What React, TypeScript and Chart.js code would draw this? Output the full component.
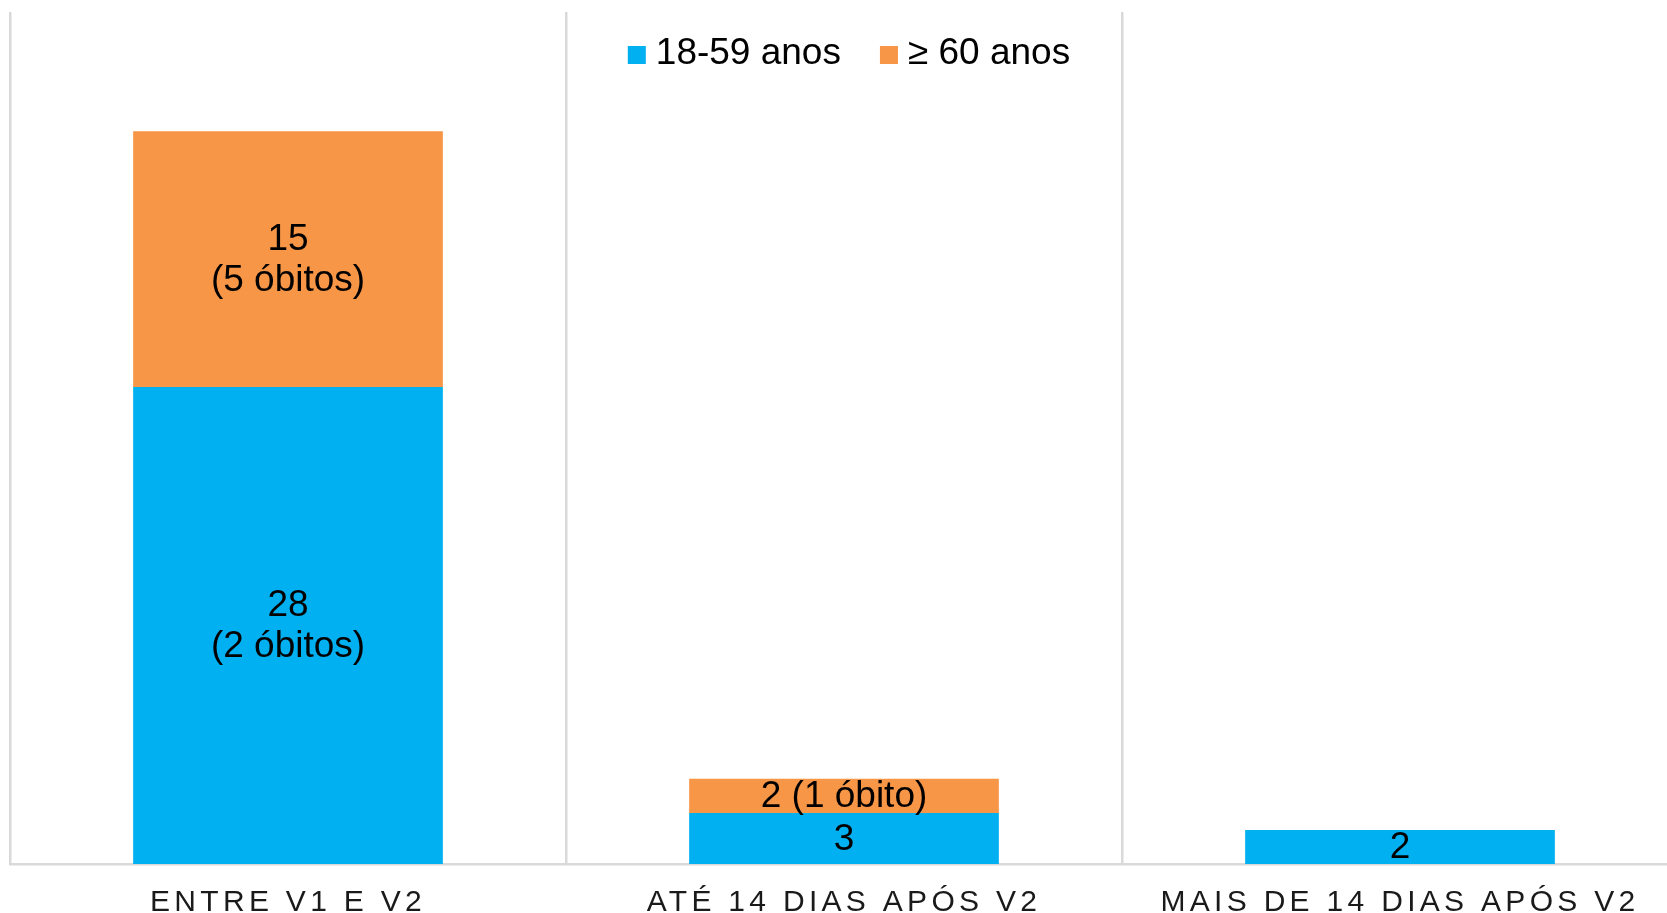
import React, { useEffect, useRef } from 'react';
import { Chart, registerables } from 'chart.js';

Chart.register(...registerables);

const categories = ['ENTRE V1 E V2', 'ATÉ 14 DIAS APÓS V2', 'MAIS DE 14 DIAS APÓS V2'];
const seriesNames = ['18-59 anos', '≥ 60 anos'];
const youngValues = [28, 3, 2];
const olderValues: (number | null)[] = [15, 2, null];
const youngLabels = [['28', '(2 óbitos)'], ['3'], ['2']];
const olderLabels = [['15', '(5 óbitos)'], ['2 (1 óbito)'], []];
const yMax = 50;

const FONT = "'Liberation Sans', Arial, sans-serif";
const BLUE = '#00B0F0';
const ORANGE = '#F79646';
const GRID = '#D9D9D9';

const letterSpacingPlugin = {
  id: 'xLetterSpacing',
  beforeDraw(chart: any) {
    chart.ctx.letterSpacing = '4.3px';
  },
  beforeDatasetsDraw(chart: any) {
    chart.ctx.letterSpacing = '0px';
  },
};

const dataLabelPlugin = {
  id: 'segmentLabels',
  afterDatasetsDraw(chart: any) {
    const ctx = chart.ctx;
    const all = [youngLabels, olderLabels];
    ctx.save();
    ctx.font = `37px ${FONT}`;
    ctx.fillStyle = '#000';
    ctx.textAlign = 'center';
    ctx.textBaseline = 'middle';
    const lh = 41.5;
    chart.data.datasets.forEach((_: any, di: number) => {
      const meta = chart.getDatasetMeta(di);
      meta.data.forEach((bar: any, i: number) => {
        const lines = all[di][i] || [];
        if (!lines.length) return;
        const cy = (bar.y + bar.base) / 2;
        const start = cy - ((lines.length - 1) * lh) / 2;
        lines.forEach((t: string, k: number) => {
          ctx.fillText(t, bar.x, start + k * lh + 1);
        });
      });
    });
    ctx.restore();
  },
};

const legendPlugin = {
  id: 'innerLegend',
  afterDraw(chart: any) {
    const ctx = chart.ctx;
    const area = chart.chartArea;
    ctx.save();
    ctx.font = `37px ${FONT}`;
    ctx.textBaseline = 'middle';
    ctx.textAlign = 'left';
    const box = 18;
    const gapBoxText = 10;
    const gapItems = 39;
    const items = chart.data.datasets.map((d: any) => ({
      label: d.label,
      color: d.backgroundColor,
      w: ctx.measureText(d.label).width,
    }));
    const total = items.reduce((s: number, it: any) => s + box + gapBoxText + it.w, 0) + gapItems * (items.length - 1);
    let x = (area.left + area.right) / 2 + 5 - total / 2;
    const cy = area.top + 42;
    items.forEach((it: any) => {
      ctx.fillStyle = it.color;
      ctx.fillRect(x, cy - box / 2 + 1, box, box);
      x += box + gapBoxText;
      ctx.fillStyle = '#000';
      ctx.fillText(it.label, x, cy);
      x += it.w + gapItems;
    });
    ctx.restore();
  },
};

export default function App() {
  const ref = useRef<HTMLCanvasElement | null>(null);

  useEffect(() => {
    if (!ref.current) return;
    const chart = new Chart(ref.current, {
      type: 'bar',
      data: {
        labels: categories,
        datasets: [
          {
            label: seriesNames[0],
            data: youngValues,
            backgroundColor: BLUE,
            borderWidth: 0,
            categoryPercentage: 1,
            barPercentage: 0.557,
          },
          {
            label: seriesNames[1],
            data: olderValues,
            backgroundColor: ORANGE,
            borderWidth: 0,
            categoryPercentage: 1,
            barPercentage: 0.557,
          },
        ],
      },
      options: {
        animation: false,
        responsive: true,
        maintainAspectRatio: false,
        layout: { padding: { left: 10, top: 12, right: 12, bottom: 3 } },
        plugins: {
          legend: { display: false },
          tooltip: { enabled: false },
          title: { display: false },
        },
        scales: {
          x: {
            stacked: true,
            grid: { offset: true, color: GRID, lineWidth: 2.5, drawTicks: false },
            border: { display: true, color: GRID, width: 2.5 },
            ticks: {
              font: { family: FONT, size: 30 },
              color: '#1a1a1a',
              padding: 21,
              maxRotation: 0,
              autoSkip: false,
            },
          },
          y: {
            stacked: true,
            display: false,
            min: 0,
            max: yMax,
          },
        },
      },
      plugins: [letterSpacingPlugin, dataLabelPlugin, legendPlugin],
    });
    return () => chart.destroy();
  }, []);

  return (
    <div style={{ position: 'absolute', left: 0, top: 0, width: 1667, height: 913, overflow: 'hidden', background: '#fff' }}>
      <div style={{ position: 'relative', width: 1690, height: 945 }}>
        <canvas ref={ref} />
      </div>
    </div>
  );
}
